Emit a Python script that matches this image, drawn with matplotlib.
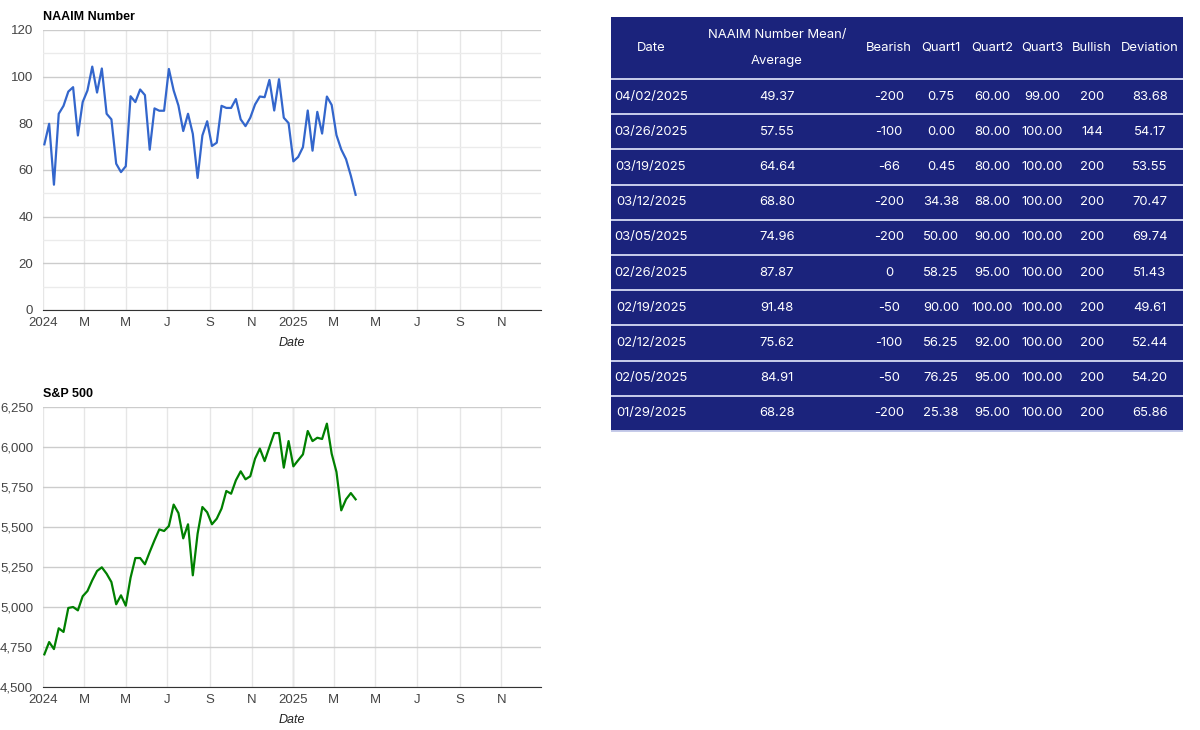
import matplotlib
matplotlib.use("Agg")
import matplotlib.pyplot as plt
import matplotlib.dates as mdates
import matplotlib.ticker as mticker
import pandas as pd

# weekly survey dates (Wednesdays) and readings
first_week = "2024-01-03"
n_weeks = 66

naaim = [71.0, 79.8, 53.7, 84.1, 87.5, 93.6, 95.5, 74.8, 89.1, 94.1,
         104.3, 93.2, 103.5, 84.1, 81.7, 62.7, 59.1, 61.6, 91.6, 89.1,
         94.5, 92.1, 68.7, 86.4, 85.4, 85.4, 103.3, 94.1, 87.6, 76.7,
         84.1, 75.5, 56.6, 74.8, 80.9, 70.3, 71.7, 87.5, 86.6, 86.6,
         90.4, 81.7, 78.8, 82.4, 88.1, 91.5, 91.2, 98.6, 85.5, 98.9,
         82.4, 80.1, 63.7, 65.6, 69.8, 85.5, 68.28, 84.91, 75.62, 91.48,
         87.87, 74.96, 68.80, 64.64, 57.55, 49.37]

spx = [4704, 4781, 4737, 4867, 4844, 4994, 5000, 4979, 5067, 5100,
       5167, 5225, 5248, 5208, 5156, 5017, 5073, 5008, 5183, 5306,
       5306, 5267, 5344, 5417, 5485, 5475, 5506, 5640, 5587, 5429,
       5517, 5198, 5458, 5625, 5592, 5517, 5552, 5615, 5725, 5708,
       5792, 5848, 5798, 5817, 5927, 5990, 5912, 6000, 6087, 6087,
       5871, 6037, 5879, 5917, 5954, 6100, 6037, 6058, 6050, 6146,
       5958, 5844, 5604, 5673, 5712, 5673]

# table data
tbl_dates = ["04/02/2025", "03/26/2025", "03/19/2025", "03/12/2025", "03/05/2025",
             "02/26/2025", "02/19/2025", "02/12/2025", "02/05/2025", "01/29/2025"]
tbl_mean = [49.37, 57.55, 64.64, 68.80, 74.96, 87.87, 91.48, 75.62, 84.91, 68.28]
tbl_bearish = [-200, -100, -66, -200, -200, 0, -50, -100, -50, -200]
tbl_q1 = [0.75, 0.00, 0.45, 34.38, 50.00, 58.25, 90.00, 56.25, 76.25, 25.38]
tbl_q2 = [60.00, 80.00, 80.00, 88.00, 90.00, 95.00, 100.00, 92.00, 95.00, 95.00]
tbl_q3 = [99.00, 100.00, 100.00, 100.00, 100.00, 100.00, 100.00, 100.00, 100.00, 100.00]
tbl_bullish = [200, 144, 200, 200, 200, 200, 200, 200, 200, 200]
tbl_dev = [83.68, 54.17, 53.55, 70.47, 69.74, 51.43, 49.61, 52.44, 54.20, 65.86]
tbl_headers = ["Date", "NAAIM Number Mean/\nAverage", "Bearish", "Quart1",
               "Quart2", "Quart3", "Bullish", "Deviation"]

plt.rcParams["font.family"] = ["Liberation Sans", "DejaVu Sans"]

W, H = 1200, 730
NAVY = "#1b237c"
fig = plt.figure(figsize=(12, 7.3), dpi=100)

weeks = pd.date_range(first_week, periods=n_weeks, freq="7D")
tick_dates = pd.date_range("2024-01-01", "2025-11-01", freq="2MS")


def month_label(x, pos):
    d = mdates.num2date(x)
    if d.month == 1:
        return str(d.year)
    return d.strftime("%b")[0]


def style_chart(ax, title):
    ax.set_xlim(pd.Timestamp("2024-01-01"), pd.Timestamp("2025-12-29"))
    ax.set_xticks(tick_dates)
    ax.xaxis.set_major_formatter(mticker.FuncFormatter(month_label))
    ax.grid(axis="x", color="#e6e6e6", linewidth=1)
    ax.grid(axis="y", which="major", color="#cccccc", linewidth=1)
    ax.axvline(pd.Timestamp("2025-01-01"), color="#cccccc", linewidth=1, zorder=0.5)
    ax.set_axisbelow(True)
    for s in ["top", "right", "left"]:
        ax.spines[s].set_visible(False)
    ax.spines["bottom"].set_color("#333333")
    ax.tick_params(length=0, labelsize=9.5, labelcolor="#444444")
    ax.tick_params(axis="y", pad=7)
    ax.tick_params(axis="x", pad=5)
    ax.set_xlabel("Date", style="italic", fontsize=9, color="#222222", labelpad=6)
    ax.set_title(title, loc="left", fontsize=9, fontweight="bold", pad=7)


# NAAIM chart
ax1 = fig.add_axes([43 / W, 1 - 310 / H, 498 / W, 280 / H])
ax1.plot(weeks, naaim, color="#3366cc", linewidth=1.6)
ax1.set_ylim(0, 120)
ax1.set_yticks(range(0, 121, 20))
ax1.set_yticks(range(10, 120, 20), minor=True)
ax1.grid(axis="y", which="minor", color="#ebebeb", linewidth=1)
ax1.tick_params(which="minor", length=0)
style_chart(ax1, "NAAIM Number")

# S&P 500 chart
ax2 = fig.add_axes([43 / W, 1 - 687 / H, 498 / W, 280 / H])
ax2.plot(weeks, spx, color="#008000", linewidth=1.6)
ax2.set_ylim(4500, 6250)
ax2.set_yticks(range(4500, 6251, 250))
ax2.yaxis.set_major_formatter(mticker.StrMethodFormatter("{x:,.0f}"))
style_chart(ax2, "S&P 500")

# table
rows = []
for i in range(len(tbl_dates)):
    rows.append([tbl_dates[i], f"{tbl_mean[i]:.2f}", f"{tbl_bearish[i]}",
                 f"{tbl_q1[i]:.2f}", f"{tbl_q2[i]:.2f}", f"{tbl_q3[i]:.2f}",
                 f"{tbl_bullish[i]}", f"{tbl_dev[i]:.2f}"])

col_w = [80, 172, 52, 52, 50, 50, 50, 66]
tax = fig.add_axes([611 / W, 1 - 431 / H, 572 / W, 414 / H])
tax.set_facecolor(NAVY)
tax.set_xticks([])
tax.set_yticks([])
for s in tax.spines.values():
    s.set_visible(False)
tbl = tax.table(cellText=rows, colLabels=tbl_headers, cellLoc="center",
                colWidths=[w / sum(col_w) for w in col_w], bbox=[0, 0, 1, 1])
tbl.auto_set_font_size(False)
for (r, c), cell in tbl.get_celld().items():
    cell.set_facecolor(NAVY)
    cell.set_edgecolor("#c5cae9")
    cell.set_linewidth(1.4)
    cell.visible_edges = "B" if r == 0 else "horizontal"
    cell.set_height(62 if r == 0 else 35.2)
    txt = cell.get_text()
    txt.set_color("white")
    txt.set_fontsize(9.4)
    txt.set_fontfamily(["Inter", "DejaVu Sans"])
    if r == 0:
        txt.set_linespacing(2.5)

fig.savefig("out.png", dpi=100)
